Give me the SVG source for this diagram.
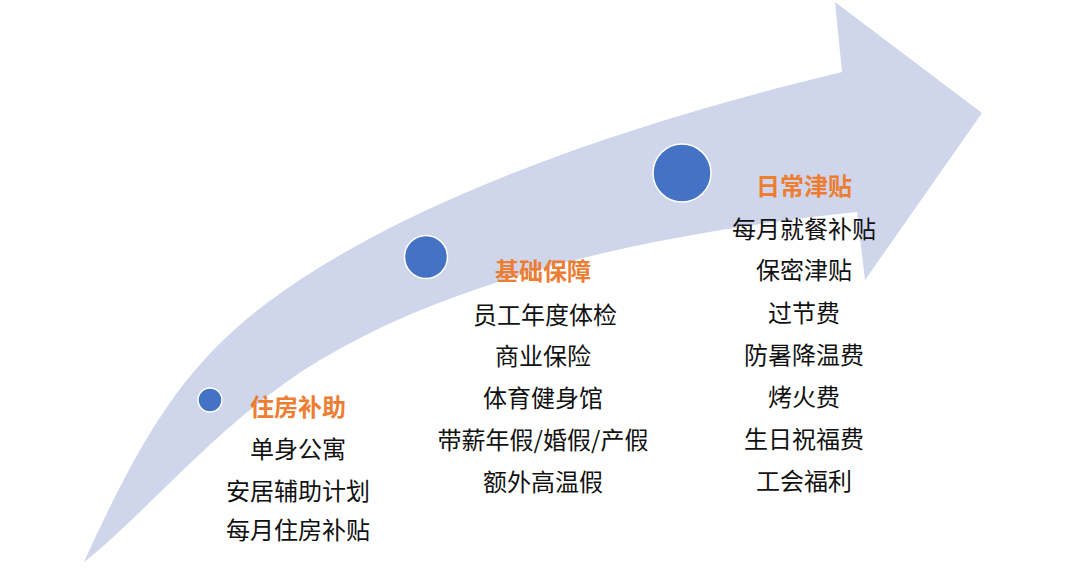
<svg xmlns="http://www.w3.org/2000/svg" width="1080" height="568" viewBox="0 0 1080 568">
<style>
.band{fill:#CFD6EB;}
.dot{fill:#4472C4;stroke:#FFFFFF;stroke-width:1.5;}
text{font-family:"Noto Sans CJK SC","Noto Sans",sans-serif;font-size:24px;text-anchor:middle;fill:#111111;}
.t{fill:#ED7D31;font-weight:bold;}
</style>
<rect width="1080" height="568" fill="#FFFFFF"/>
<g id="arrow">
<path class="band" d="M84,562 C144,430 187,363 267,303 C417,190.5 662,115 842,72 L835,2 L982,113 L865,280 L857,212 C677,231 470,270 320,360 C220,420 144,516 84,562 Z"/>
</g>
<g id="connectors"></g>
<g id="node1">
<circle class="dot" cx="210" cy="400" r="12"/>
<text class="t" x="298" y="416">住房补助</text>
<text x="298" y="458">单身公寓</text>
<text x="298" y="500">安居辅助计划</text>
<text x="298" y="539">每月住房补贴</text>
</g>
<g id="node2">
<circle class="dot" cx="426" cy="257" r="21.5"/>
<text class="t" x="543" y="280">基础保障</text>
<text x="545" y="324">员工年度体检</text>
<text x="543" y="365">商业保险</text>
<text x="543" y="407">体育健身馆</text>
<text x="543" y="449">带薪年假/婚假/产假</text>
<text x="543" y="491">额外高温假</text>
</g>
<g id="node3">
<circle class="dot" cx="682" cy="173" r="29"/>
<text class="t" x="804" y="195">日常津贴</text>
<text x="804" y="238">每月就餐补贴</text>
<text x="804" y="279">保密津贴</text>
<text x="804" y="322">过节费</text>
<text x="804" y="364">防暑降温费</text>
<text x="804" y="406">烤火费</text>
<text x="804" y="448">生日祝福费</text>
<text x="804" y="490">工会福利</text>
</g>
</svg>
